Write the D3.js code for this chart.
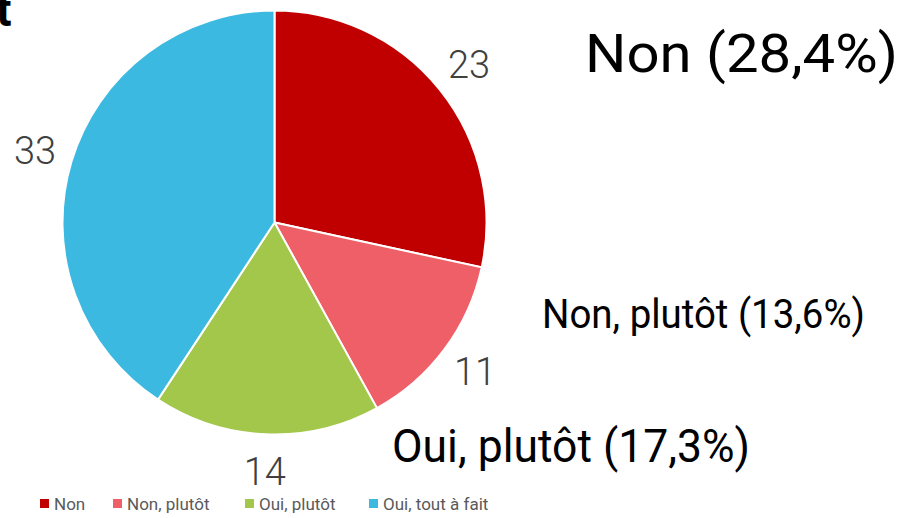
<!DOCTYPE html>
<html>
<head>
<meta charset="utf-8">
<script src="https://cdn.jsdelivr.net/npm/d3@7"></script>
<style>
  body { margin: 0; background: #fff; }
  svg { display: block; font-family: Roboto, "Noto Sans", sans-serif; }
</style>
</head>
<body>
<div id="chart"></div>
<script>
// Data
var categories = ["Non", "Non, plutôt", "Oui, plutôt", "Oui, tout à fait"];
var counts = [23, 11, 14, 33];
var colors = ["#c00000", "#ef5f67", "#a3c74a", "#3bb9e0"];

// Big annotations (category + share), only three are shown in the picture
var noteCategories = ["Non", "Non, plutôt", "Oui, plutôt"];
var notePercents = ["28,4%", "13,6%", "17,3%"];

var width = 912, height = 518;
var cx = 274.5, cy = 222.5, radius = 212;

var svg = d3.select("#chart").append("svg")
    .attr("width", width)
    .attr("height", height);

// Cut off title at the top left
svg.append("text")
    .attr("x", -4)
    .attr("y", 26)
    .style("font-size", "46px")
    .style("font-weight", "bold")
    .style("fill", "#000")
    .text("t");

var data = categories.map(function(c, i) {
    return {name: c, value: counts[i], color: colors[i]};
});

var pie = d3.pie()
    .sort(null)
    .value(function(d) { return d.value; });

var arc = d3.arc()
    .innerRadius(0)
    .outerRadius(radius);

var labelArc = d3.arc()
    .innerRadius(250)
    .outerRadius(250);

var g = svg.append("g")
    .attr("transform", "translate(" + cx + "," + cy + ")");

var arcs = pie(data);

g.selectAll("path")
    .data(arcs)
    .enter().append("path")
    .attr("d", arc)
    .style("fill", function(d) { return d.data.color; })
    .style("stroke", "#fff")
    .style("stroke-width", 2);

// Value labels outside the pie
g.selectAll(".val")
    .data(arcs)
    .enter().append("text")
    .attr("class", "val")
    .attr("transform", function(d) { return "translate(" + labelArc.centroid(d) + ")"; })
    .attr("dy", "0.34em")
    .style("text-anchor", "middle")
    .style("font-size", "38px")
    .style("font-weight", 300)
    .style("fill", "#404040")
    .text(function(d) { return d.data.value; });

// Large annotations
var notePos = [
    {x: 585, y: 72, size: 54, w: 313},
    {x: 542, y: 328, size: 40, w: 323},
    {x: 392, y: 462, size: 46, w: 358}
];

svg.selectAll(".note")
    .data(noteCategories)
    .enter().append("text")
    .attr("class", "note")
    .attr("x", function(d, i) { return notePos[i].x; })
    .attr("y", function(d, i) { return notePos[i].y; })
    .attr("textLength", function(d, i) { return notePos[i].w; })
    .attr("lengthAdjust", "spacingAndGlyphs")
    .style("font-size", function(d, i) { return notePos[i].size + "px"; })
    .style("fill", "#000")
    .text(function(d, i) { return d + " (" + notePercents[i] + ")"; });

// Legend
var legendX = [40, 113, 245, 369];

var legend = svg.selectAll(".legend")
    .data(data)
    .enter().append("g")
    .attr("class", "legend")
    .attr("transform", function(d, i) { return "translate(" + legendX[i] + ",499)"; });

legend.append("rect")
    .attr("width", 9)
    .attr("height", 9)
    .style("fill", function(d) { return d.color; });

legend.append("text")
    .attr("x", 14)
    .attr("y", 4.5)
    .attr("dy", "0.36em")
    .style("font-size", "17px")
    .style("fill", "#595959")
    .text(function(d) { return d.name; });
</script>
</body>
</html>
